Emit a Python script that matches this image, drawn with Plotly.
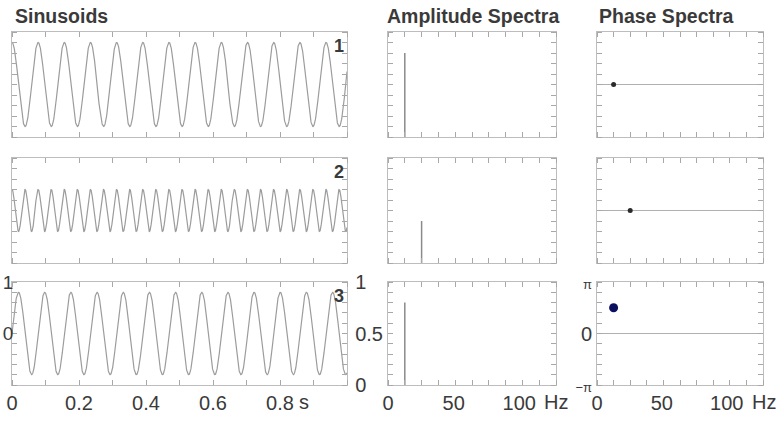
import numpy as np
import plotly.graph_objects as go

# ---- data ----
panel_labels = ["1", "2", "3"]
frequencies_hz = [12.8, 25.6, 12.8]          # sinusoid frequencies
amplitudes = [0.8, 0.4, 0.8]                 # amplitude spectra values
phases_rad = [0.0, 0.0, np.pi / 2]           # phase spectra values
sample_rate = 256                            # samples per second (Nyquist 128 Hz)
duration_s = 1.0

time_tick_vals = [0, 0.2, 0.4, 0.6, 0.8]
time_tick_text = ["0", "0.2", "0.4", "0.6", "0.8"]
freq_tick_vals = [0, 50, 100]
freq_tick_text = ["0", "50", "100"]
amp_tick_vals = [0, 0.5, 1]
amp_tick_text = ["0\u00a0\u00a0\u00a0", "0.5", "1\u00a0\u00a0\u00a0"]
sin_tick_vals = [0, 1]
sin_tick_text = ["0", "1"]
phase_tick_vals = [-np.pi, 0, np.pi]
phase_tick_text = ["<span style='font-size:13px'>\u2212\u03c0</span>", "0",
                   "<span style='font-size:13px'>\u03c0</span>"]
column_titles = ["Sinusoids", "Amplitude Spectra", "Phase Spectra"]

W, H = 783, 427
col_px = [(12, 347), (388, 556), (597, 763)]
row_px = [(32, 137), (158, 263), (282, 385)]

def xdom(c):
    return [col_px[c][0] / W, col_px[c][1] / W]

def ydom(r):
    return [1 - row_px[r][1] / H, 1 - row_px[r][0] / H]

FONT = "Liberation Sans, Arial, sans-serif"
TXT = "#3a3a3a"
FRAME = "#bdbdbd"
TICK = "#a8a8a8"

fig = go.Figure()
t = np.arange(0, duration_s + 1e-9, 1 / (sample_rate * 8))
nyq = sample_rate / 2

def axis_base():
    return dict(showline=True, linecolor=FRAME, linewidth=1, mirror="ticks",
                showgrid=False, zeroline=False, ticks="", automargin=False,
                tickfont=dict(family=FONT, size=20, color=TXT))

layout = {}
for r in range(3):
    f, a, p = frequencies_hz[r], amplitudes[r], phases_rad[r]
    for c in range(3):
        idx = r * 3 + c + 1
        xa = "xaxis" if idx == 1 else f"xaxis{idx}"
        ya = "yaxis" if idx == 1 else f"yaxis{idx}"
        xr = "x" if idx == 1 else f"x{idx}"
        yr = "y" if idx == 1 else f"y{idx}"
        xax = axis_base()
        yax = axis_base()
        xax.update(domain=xdom(c), anchor=yr)
        yax.update(domain=ydom(r), anchor=xr)
        last = (r == 2)
        if c == 0:
            y = a * np.cos(2 * np.pi * f * t - p)
            fig.add_trace(go.Scatter(x=t, y=y, mode="lines", xaxis=xr, yaxis=yr,
                                     line=dict(color="#9c9c9c", width=1.2),
                                     hoverinfo="skip", showlegend=False))
            xax.update(range=[0, duration_s], tickvals=time_tick_vals, ticktext=time_tick_text,
                       showticklabels=last,
                       minor=dict(ticks="inside", dtick=0.1, tick0=0, ticklen=5, tickcolor=TICK))
            yax.update(range=[-1, 1], tickvals=sin_tick_vals, ticktext=sin_tick_text,
                       showticklabels=last, ticklabelstandoff=-6,
                       tickfont=dict(family=FONT, size=19, color=TXT),
                       minor=dict(ticks="inside", dtick=0.2, tick0=0, ticklen=5, tickcolor=TICK))
        elif c == 1:
            fig.add_trace(go.Scatter(x=[f, f], y=[0, a], mode="lines", xaxis=xr, yaxis=yr,
                                     line=dict(color="#8a8a8a", width=1.5),
                                     hoverinfo="skip", showlegend=False))
            xax.update(range=[0, nyq], tickvals=freq_tick_vals, ticktext=freq_tick_text,
                       showticklabels=last,
                       minor=dict(ticks="inside", dtick=nyq / 10, tick0=0, ticklen=5, tickcolor=TICK))
            yax.update(range=[0, 1], tickvals=amp_tick_vals, ticktext=amp_tick_text,
                       showticklabels=last,
                       minor=dict(ticks="inside", dtick=0.1, tick0=0, ticklen=5, tickcolor=TICK))
        else:
            fig.add_trace(go.Scatter(x=[0, nyq], y=[0, 0], mode="lines", xaxis=xr, yaxis=yr,
                                     line=dict(color="#b0b0b0", width=1),
                                     hoverinfo="skip", showlegend=False))
            dot_col = "#0b0f5e" if p != 0 else "#2a2a2a"
            dot_size = 9 if p != 0 else 5
            fig.add_trace(go.Scatter(x=[f], y=[p], mode="markers", xaxis=xr, yaxis=yr,
                                     marker=dict(color=dot_col, size=dot_size),
                                     hoverinfo="skip", showlegend=False))
            xax.update(range=[0, nyq], tickvals=freq_tick_vals, ticktext=freq_tick_text,
                       showticklabels=last,
                       minor=dict(ticks="inside", dtick=nyq / 10, tick0=0, ticklen=5, tickcolor=TICK))
            yax.update(range=[-np.pi, np.pi], tickvals=phase_tick_vals, ticktext=phase_tick_text,
                       showticklabels=last,
                       minor=dict(ticks="inside", dtick=np.pi / 5, tick0=0, ticklen=5, tickcolor=TICK))
        layout[xa] = xax
        layout[ya] = yax

annotations = []
# column titles
title_x = [13, 385, 597]
for c in range(3):
    annotations.append(dict(text=f"<b>{column_titles[c]}</b>", x=title_x[c] / W, y=1 - 16 / H,
                            xref="paper", yref="paper", xanchor="left", yanchor="middle",
                            showarrow=False, font=dict(family=FONT, size=19.5, color=TXT)))
# panel numbers
for r in range(3):
    annotations.append(dict(text=f"<b>{panel_labels[r]}</b>", x=col_px[0][1] / W - 1 / W,
                            y=1 - (row_px[r][0] + 14) / H, xref="paper", yref="paper",
                            xanchor="right", yanchor="middle", showarrow=False,
                            font=dict(family=FONT, size=18, color=TXT)))
# units
unit_y = 1 - 402 / H
annotations.append(dict(text="s", x=time_tick_vals[-1], xref="x7", y=unit_y, yref="paper",
                        xanchor="left", yanchor="middle", xshift=17, showarrow=False,
                        font=dict(family=FONT, size=20, color=TXT)))
for xr in ["x8", "x9"]:
    annotations.append(dict(text="Hz", x=freq_tick_vals[-1], xref=xr, y=unit_y, yref="paper",
                            xanchor="left", yanchor="middle", xshift=23, showarrow=False,
                            font=dict(family=FONT, size=20, color=TXT)))

fig.update_layout(width=W, height=H, margin=dict(l=0, r=0, t=0, b=0),
                  paper_bgcolor="white", plot_bgcolor="white",
                  annotations=annotations, **layout)

fig.write_html("out.html", config={"displayModeBar": False},
               post_script="document.body.style.margin='0';document.body.style.overflow='hidden';")
